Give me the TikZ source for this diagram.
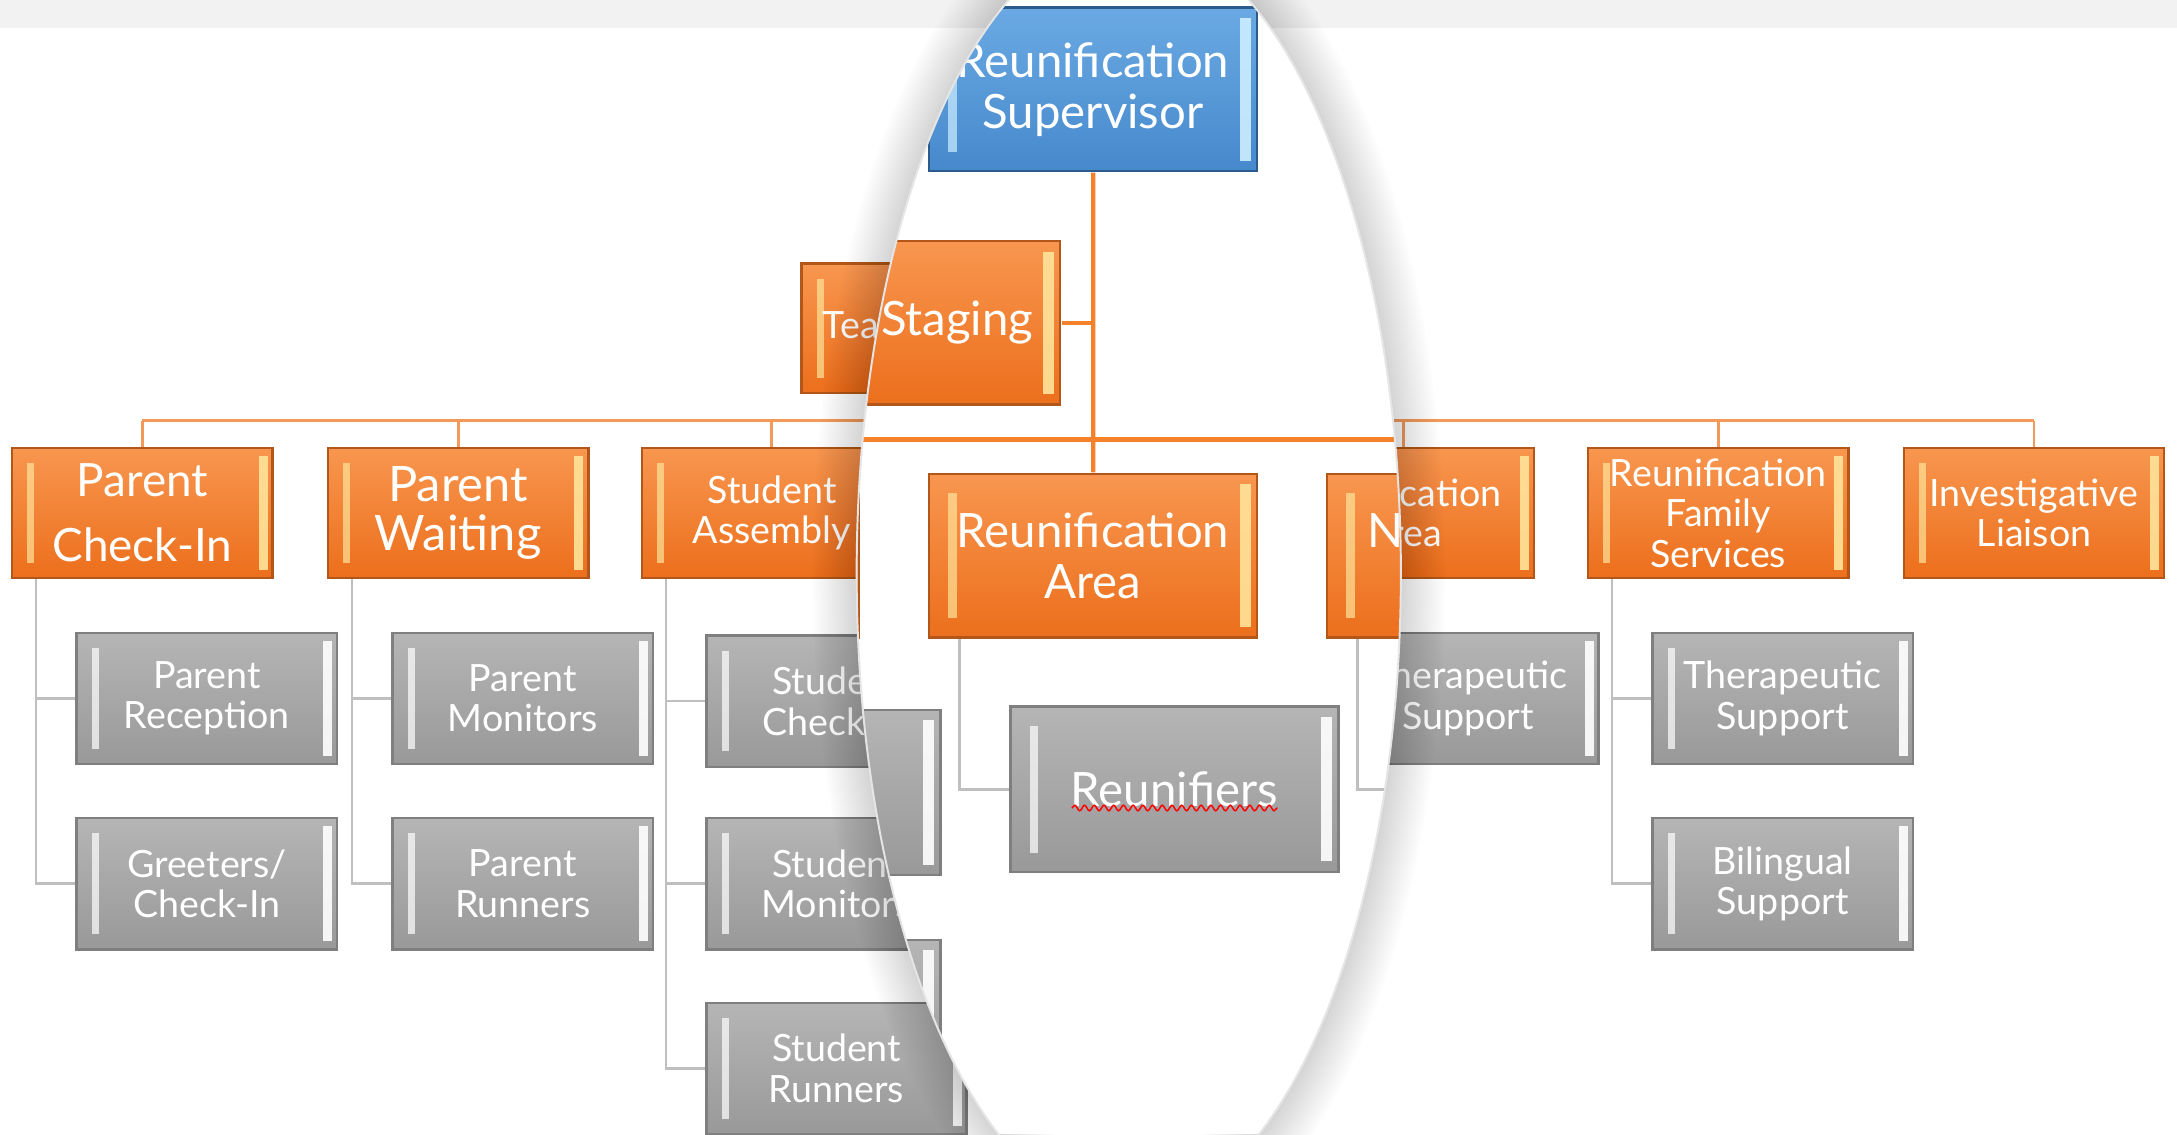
\documentclass[tikz,border=0pt]{standalone}
\usepackage{fontspec}
\setmainfont{Lato}
\usepackage{xcolor}
\usetikzlibrary{calc,
	positioning,
	decorations.pathmorphing}
\definecolor{band}{HTML}{F2F2F2}
\definecolor{orgtop}{HTML}{F8964F}
\definecolor{orgbot}{HTML}{EC6F1C}
\definecolor{orgline}{HTML}{B2561A}
\definecolor{orghl}{HTML}{FFE49A}
\definecolor{grtop}{HTML}{B5B5B5}
\definecolor{grbot}{HTML}{999999}
\definecolor{grline}{HTML}{7F7F7F}
\definecolor{bltop}{HTML}{6AA9E3}
\definecolor{blbot}{HTML}{4689CC}
\definecolor{blline}{HTML}{2C5C8C}
\definecolor{blhl}{HTML}{CDEEFF}
\definecolor{orglink}{HTML}{F39A5B}
\definecolor{orglinkm}{HTML}{F5812A}
\definecolor{grlink}{HTML}{BFBFBF}
\tikzset{bevel/.style={path picture={
	\fill[#1, opacity=.7] ([xshift=1.1mm,yshift=1.1mm]path picture bounding box.south west)
		rectangle ([xshift=1.6mm,yshift=-1.1mm]path picture bounding box.north west);
	\fill[#1, opacity=.9] ([xshift=-1.0mm,yshift=0.6mm]path picture bounding box.south east)
		rectangle ([xshift=-0.35mm,yshift=-0.6mm]path picture bounding box.north east);
	}}}
\tikzstyle{bx}=[draw, line width=0.5pt, minimum width=18.75mm, minimum height=9.35mm,
		inner sep=0, align=center, text=white, font=\fontsize{7.7}{8.3}\selectfont]
\tikzstyle{ob}=[bx, draw=orgline, top color=orgtop, bottom color=orgbot, bevel=orghl]
\tikzstyle{gb}=[bx, draw=grline, top color=grtop, bottom color=grbot, bevel=white,
		minimum height=9.45mm]
\tikzstyle{sb}=[bx, draw=blline, top color=bltop, bottom color=blbot, bevel=blhl]
\tikzstyle{ol}=[draw=orglink, line width=0.6pt]
\tikzstyle{gl}=[draw=grlink, line width=0.5pt]
\tikzstyle{squig}=[draw=red, line width=0.3pt, decorate,
		decoration={snake, amplitude=0.2mm, segment length=0.7mm}]
\tikzstyle{lens}=[x radius=19.6mm, y radius=46mm]

% boxes under the middle of the lens (only seen magnified)
\newcommand{\hubpart}{%
	\node[sb] (sup) at (783.5,103) {Reunification\\Supervisor};
	\node[ob] (rua) at (783.5,369.5) {Reunification\\Area};
	\node[gb] (rua1) at (830,503) {Reunifiers};
	\draw[ol] (sup) -- (rua);
	\draw[gl] ($(rua.south west)!.096!(rua.south east)$) |- (rua1.west);
	\draw[squig] (771.4,513.8) -- (889,513.8);
}
% boxes cut by the rim of the lens (seen both ways)
\newcommand{\rimpart}{%
	\node[ob] (stg) at (671,236.5) {Team Staging};
	\node[ob] (sas) at (556,369.5) {Student\\Assembly};
	\node[ob] (nta) at (1011,369.5) {Notification\\Area};
	\node[gb] (sas1) at (602.5,505) {Student\\Check-In};
	\node[gb] (sas2) at (602.5,636.5) {Student\\Monitors};
	\node[gb] (nta1) at (1057.5,503) {Therapeutic\\Support};
	\coordinate (bus) at (783.5,303);
	\draw[ol] (stg.east) -- (stg.east -| bus);
	\draw[ol] (sas.north |- bus) -- (nta.north |- bus);
	\foreach \n in {sas,nta}
		\draw[ol] (\n.north) -- (\n.north |- bus);
	\foreach \pa/\ch in {sas/sas1,sas/sas2,nta/nta1}
		\draw[gl] ($(\pa.south west)!.096!(\pa.south east)$) |- (\ch.west);
}
% boxes outside the lens
\newcommand{\farpart}{%
	\node[ob, font=\fontsize{9.4}{13.4}\selectfont] (pci) at (102.5,369.5) {Parent\\Check-In};
	\node[ob, font=\fontsize{10}{10}\selectfont] (pwt) at (330,369.5) {Parent\\Waiting};
	\node[ob] (rfs) at (1237.5,369.5) {Reunification\\Family\\Services};
	\node[ob] (inv) at (1465,369.5) {Investigative\\Liaison};
	\node[gb] (pci1) at (149,503) {Parent\\Reception};
	\node[gb] (pci2) at (149,636.5) {Greeters/\\Check-In};
	\node[gb] (pwt1) at (376.5,503) {Parent\\Monitors};
	\node[gb] (pwt2) at (376.5,636.5) {Parent\\Runners};
	\node[gb] (sas3) at (602.5,769.5) {Student\\Runners};
	\node[gb] (rfs1) at (1284,503) {Therapeutic\\Support};
	\node[gb] (rfs2) at (1284,636.5) {Bilingual\\Support};
	\draw[ol] (pci.north |- bus) -- (inv.north |- bus);
	\foreach \n in {pci,pwt,rfs,inv}
		\draw[ol] (\n.north) -- (\n.north |- bus);
	\foreach \pa/\ch in {pci/pci1,pci/pci2,pwt/pwt1,pwt/pwt2,sas/sas3,rfs/rfs1,rfs/rfs2}
		\draw[gl] ($(\pa.south west)!.096!(\pa.south east)$) |- (\ch.west);
}

\begin{document}
\begin{tikzpicture}[x=0.1mm, y=-0.1mm]
	\useasboundingbox (0,0) rectangle (1568,817);
	\fill[band] (0,0) rectangle (1568,20);
	\rimpart
	\farpart
	% lens shadow
	\foreach \w in {1,...,14}
		\draw[black, opacity=.013, line width=\w*0.45mm] (813,413) ellipse [lens];
	\begin{scope}
		\clip (813,413) ellipse [lens];
		\fill[white] (600,0) rectangle (1030,817);
		\begin{scope}[shift={(-200,-65.4)}, scale=1.26, transform shape, name prefix=m-,
				ol/.append style={draw=orglinkm, line width=0.9pt},
				gl/.append style={line width=0.7pt}]
			\hubpart
			\rimpart
		\end{scope}
	\end{scope}
	\draw[black!10, line width=0.4pt] (813,413) ellipse [lens];
\end{tikzpicture}
\end{document}
